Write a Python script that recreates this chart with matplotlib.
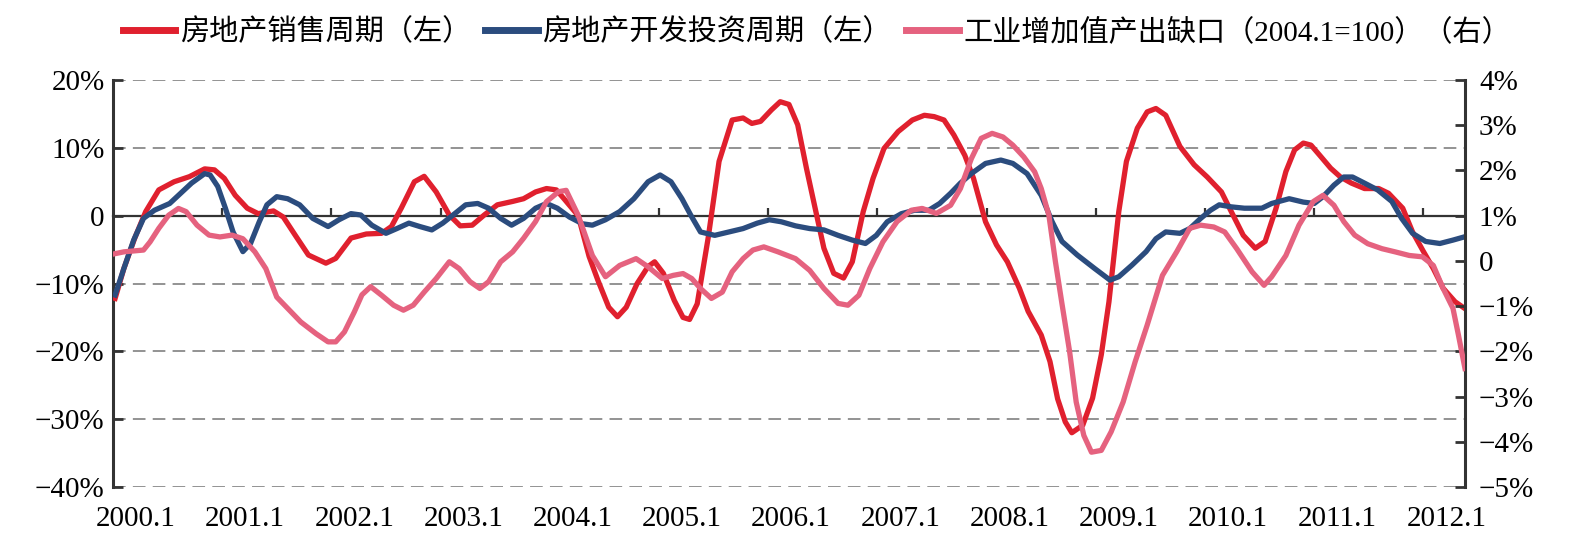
import matplotlib.pyplot as plt

# x positions are decimal years (2000.0 = Jan 2000)
years = list(range(2000, 2013))
year_labels = ["{}.1".format(y) for y in years]

# 房地产销售周期 (left axis, %)
sales_t = [2000.02, 2000.10, 2000.20, 2000.30, 2000.42, 2000.56, 2000.70, 2000.84, 2000.93,
           2001.02, 2001.12, 2001.23, 2001.33, 2001.47, 2001.56, 2001.67, 2001.79, 2001.95,
           2002.04, 2002.18, 2002.32, 2002.46, 2002.55, 2002.64, 2002.76, 2002.85, 2002.96,
           2003.08, 2003.18, 2003.29, 2003.40, 2003.52, 2003.66, 2003.76, 2003.87, 2003.97,
           2004.06, 2004.13, 2004.26, 2004.36, 2004.44, 2004.54, 2004.62, 2004.70, 2004.80,
           2004.90, 2004.96, 2005.04, 2005.14, 2005.22, 2005.28, 2005.35, 2005.45, 2005.55,
           2005.67, 2005.77, 2005.85, 2005.93, 2006.03, 2006.11, 2006.19, 2006.27, 2006.35,
           2006.45, 2006.51, 2006.60, 2006.69, 2006.77, 2006.87, 2006.96, 2007.06, 2007.19,
           2007.32, 2007.43, 2007.52, 2007.61, 2007.70, 2007.80, 2007.88, 2007.99, 2008.09,
           2008.19, 2008.30, 2008.38, 2008.50, 2008.58, 2008.65, 2008.72, 2008.78, 2008.88,
           2008.97, 2009.05, 2009.12, 2009.21, 2009.28, 2009.38, 2009.47, 2009.55, 2009.64,
           2009.77, 2009.90, 2010.02, 2010.15, 2010.24, 2010.35, 2010.46, 2010.55, 2010.65,
           2010.74, 2010.82, 2010.90, 2010.97, 2011.05, 2011.15, 2011.24, 2011.34, 2011.46,
           2011.59, 2011.68, 2011.81, 2011.90, 2012.00, 2012.09, 2012.18, 2012.29, 2012.38]
sales_v = [-12.2, -7.8, -3.3, 0.6, 3.8, 5.0, 5.75, 6.9, 6.75,
           5.5, 3.0, 1.1, 0.3, 0.7, -0.2, -2.9, -5.8, -7.0,
           -6.3, -3.3, -2.7, -2.6, -1.6, 1.1, 5.0, 5.8, 3.5,
           0.1, -1.5, -1.4, 0.1, 1.6, 2.1, 2.5, 3.5, 4.0,
           3.8, 2.5, 0.0, -6.0, -9.5, -13.5, -14.9, -13.5, -10.0,
           -7.5, -6.8, -8.5, -12.5, -15.0, -15.3, -13.0, -3.3, 8.0,
           14.1, 14.4, 13.6, 13.9, 15.6, 16.8, 16.4, 13.4, 7.0,
           -0.4, -4.8, -8.5, -9.2, -6.8, 0.6, 5.5, 9.9, 12.4,
           14.1, 14.8, 14.6, 14.1, 11.9, 8.9, 5.5, -0.9, -4.3,
           -6.8, -10.7, -14.1, -17.6, -21.5, -27.0, -30.4, -32.0, -30.9,
           -26.9, -20.5, -12.7, 0.6, 8.0, 12.9, 15.3, 15.8, 14.8,
           10.2, 7.5, 5.7, 3.5, 0.6, -2.9, -4.8, -3.8, 1.1,
           6.5, 9.7, 10.7, 10.4, 8.9, 7.0, 5.7, 4.8, 4.0,
           4.0, 3.3, 1.1, -2.4, -5.3, -7.8, -10.7, -12.7, -13.7]

# 房地产开发投资周期 (left axis, %)
invest_t = [2000.02, 2000.10, 2000.19, 2000.28, 2000.38, 2000.52, 2000.62, 2000.72, 2000.84,
            2000.89, 2000.96, 2001.03, 2001.10, 2001.19, 2001.26, 2001.34, 2001.41, 2001.50,
            2001.60, 2001.71, 2001.83, 2001.97, 2002.07, 2002.18, 2002.27, 2002.37, 2002.50,
            2002.60, 2002.71, 2002.81, 2002.92, 2003.02, 2003.13, 2003.23, 2003.34, 2003.44,
            2003.55, 2003.65, 2003.76, 2003.87, 2003.97, 2004.07, 2004.18, 2004.30, 2004.39,
            2004.51, 2004.64, 2004.77, 2004.90, 2005.01, 2005.11, 2005.21, 2005.29, 2005.38,
            2005.51, 2005.64, 2005.77, 2005.90, 2006.01, 2006.12, 2006.25, 2006.38, 2006.51,
            2006.64, 2006.77, 2006.89, 2006.99, 2007.09, 2007.22, 2007.34, 2007.47, 2007.57,
            2007.67, 2007.76, 2007.86, 2007.99, 2008.13, 2008.24, 2008.37, 2008.50, 2008.60,
            2008.69, 2008.83, 2008.99, 2009.13, 2009.21, 2009.33, 2009.46, 2009.55, 2009.64,
            2009.77, 2009.86, 2009.96, 2010.05, 2010.13, 2010.24, 2010.36, 2010.52, 2010.61,
            2010.77, 2010.90, 2011.00, 2011.08, 2011.18, 2011.27, 2011.35, 2011.46, 2011.58,
            2011.71, 2011.80, 2011.90, 2012.02, 2012.15, 2012.27, 2012.38]
invest_v = [-11.7, -7.8, -3.6, -0.4, 0.8, 1.8, 3.3, 4.8, 6.2,
            6.0, 4.3, 1.1, -2.4, -5.3, -4.1, -0.9, 1.6, 2.8,
            2.5, 1.6, -0.4, -1.6, -0.6, 0.3, 0.1, -1.4, -2.6,
            -1.9, -1.1, -1.6, -2.1, -1.1, 0.3, 1.6, 1.8, 1.1,
            -0.4, -1.4, -0.4, 1.1, 1.8, 1.1, -0.2, -1.2, -1.4,
            -0.6, 0.6, 2.5, 5.0, 6.0, 5.0, 2.5, 0.1, -2.4,
            -2.9, -2.4, -1.9, -1.1, -0.6, -0.9, -1.5, -1.9, -2.1,
            -2.9, -3.6, -4.1, -2.9, -0.9, 0.3, 0.8, 0.8, 1.8,
            3.3, 4.8, 6.2, 7.7, 8.2, 7.7, 6.2, 3.0, -0.9,
            -3.8, -5.8, -7.8, -9.5, -9.0, -7.3, -5.3, -3.4, -2.4,
            -2.6, -1.9, -0.4, 0.8, 1.6, 1.3, 1.1, 1.1, 1.8,
            2.5, 2.0, 1.8, 2.8, 4.5, 5.7, 5.7, 4.8, 3.8,
            2.1, -0.4, -2.6, -3.8, -4.1, -3.6, -3.1]

# 工业增加值产出缺口 (right axis, %)
gap_t = [2000.02, 2000.10, 2000.28, 2000.34, 2000.42, 2000.51, 2000.60, 2000.67, 2000.77,
         2000.88, 2000.98, 2001.09, 2001.19, 2001.30, 2001.40, 2001.50, 2001.62, 2001.72,
         2001.86, 2001.97, 2002.04, 2002.12, 2002.21, 2002.28, 2002.36, 2002.46, 2002.57,
         2002.66, 2002.75, 2002.85, 2002.96, 2003.08, 2003.17, 2003.27, 2003.36, 2003.44,
         2003.55, 2003.66, 2003.76, 2003.87, 2003.97, 2004.08, 2004.15, 2004.26, 2004.39,
         2004.51, 2004.64, 2004.79, 2004.90, 2005.03, 2005.13, 2005.22, 2005.30, 2005.38,
         2005.48, 2005.58, 2005.67, 2005.77, 2005.86, 2005.96, 2006.09, 2006.25, 2006.38,
         2006.51, 2006.64, 2006.73, 2006.83, 2006.93, 2007.05, 2007.18, 2007.31, 2007.41,
         2007.54, 2007.67, 2007.76, 2007.86, 2007.95, 2008.05, 2008.15, 2008.24, 2008.34,
         2008.44, 2008.50, 2008.57, 2008.63, 2008.69, 2008.76, 2008.82, 2008.89, 2008.96,
         2009.05, 2009.14, 2009.25, 2009.36, 2009.47, 2009.61, 2009.74, 2009.86, 2009.96,
         2010.08, 2010.18, 2010.29, 2010.43, 2010.54, 2010.61, 2010.74, 2010.86, 2010.99,
         2011.08, 2011.18, 2011.27, 2011.37, 2011.49, 2011.62, 2011.74, 2011.87, 2011.99,
         2012.09, 2012.18, 2012.27, 2012.32, 2012.38]
gap_v = [0.16, 0.2, 0.24, 0.42, 0.72, 1.01, 1.16, 1.09, 0.79,
         0.57, 0.53, 0.57, 0.49, 0.2, -0.17, -0.8, -1.1, -1.35,
         -1.61, -1.79, -1.79, -1.57, -1.13, -0.75, -0.57, -0.76, -0.98,
         -1.09, -0.98, -0.69, -0.39, -0.02, -0.17, -0.46, -0.61, -0.46,
         -0.02, 0.2, 0.5, 0.87, 1.31, 1.53, 1.56, 1.01, 0.12,
         -0.35, -0.1, 0.05, -0.13, -0.39, -0.32, -0.28, -0.39, -0.61,
         -0.83, -0.69, -0.24, 0.05, 0.24, 0.31, 0.2, 0.05, -0.21,
         -0.61, -0.94, -0.98, -0.76, -0.17, 0.42, 0.87, 1.12, 1.16,
         1.05, 1.23, 1.6, 2.26, 2.71, 2.82, 2.74, 2.56, 2.3,
         1.97, 1.6, 1.01, -0.02, -0.95, -2.01, -3.12, -3.86, -4.23,
         -4.19, -3.78, -3.12, -2.23, -1.42, -0.32, 0.2, 0.72, 0.79,
         0.75, 0.64, 0.27, -0.24, -0.54, -0.35, 0.12, 0.79, 1.31,
         1.45, 1.23, 0.87, 0.57, 0.38, 0.27, 0.2, 0.12, 0.09,
         -0.1, -0.61, -1.05, -1.64, -2.38]

left_ticks = [-40, -30, -20, -10, 0, 10, 20]
right_ticks = [-5, -4, -3, -2, -1, 0, 1, 2, 3, 4]


def pct(v):
    if v == 0:
        return "0"
    return "{}%".format(v).replace("-", "\u2212")


plt.rcParams['font.family'] = ['Liberation Serif', 'Noto Sans CJK SC']

fig = plt.figure(figsize=(15.86, 5.48), dpi=100)
ax = fig.add_axes([0.0712, 0.1113, 0.8525, 0.7427])
ax2 = ax.twinx()

red = '#e0202e'
blue = '#2b4c7e'
pink = '#e5627f'

l1, = ax.plot(sales_t, sales_v, color=red, lw=3.8, solid_joinstyle='round', zorder=3)
l2, = ax.plot(invest_t, invest_v, color=blue, lw=3.8, solid_joinstyle='round', zorder=3)
l3, = ax2.plot(gap_t, gap_v, color=pink, lw=3.8, solid_joinstyle='round', zorder=3)

ax.set_xlim(2000, 2012.38)
ax.set_ylim(-40, 20)
ax2.set_ylim(-5, 4)

# dashed grid (zero line is drawn by the moved bottom spine)
ax.set_yticks(left_ticks)
ax.set_yticklabels([pct(v) for v in left_ticks])
for v in left_ticks:
    if v != 0:
        ax.axhline(v, color='#8a8a8a', lw=1.3, ls=(0, (7, 4)), zorder=1)
ax2.set_yticks(right_ticks)
ax2.set_yticklabels([pct(v) for v in right_ticks])

# zero line with yearly tick marks
ax.spines['bottom'].set_position(('data', 0))
ax.spines['bottom'].set_color('#333333')
ax.spines['bottom'].set_linewidth(1.6)
ax.set_xticks(years[1:])
ax.tick_params(axis='x', direction='in', length=6, width=1.6, color='#333333',
               labelbottom=False)

# year labels at the bottom
sec = ax.secondary_xaxis('bottom')
sec.set_xticks([y + 0.21 for y in years])
sec.set_xticklabels(year_labels)
sec.tick_params(axis='x', length=0, pad=14, labelsize=21)
sec.spines['bottom'].set_visible(False)

for a in (ax, ax2):
    a.spines['top'].set_visible(False)
ax.spines['right'].set_visible(False)
ax2.spines['bottom'].set_visible(False)
ax.spines['left'].set_linewidth(2.2)
ax.spines['left'].set_color('#333333')
ax2.spines['right'].set_linewidth(2.2)
ax2.spines['right'].set_color('#333333')
ax2.spines['left'].set_visible(False)
ax.tick_params(axis='y', direction='in', length=7, width=2, color='#333333',
               labelsize=21, pad=6)
ax2.tick_params(axis='y', direction='in', length=7, width=2, color='#333333',
                labelsize=21, pad=10)

leg = fig.legend([l1, l2, l3],
                 ["房地产销售周期（左）", "房地产开发投资周期（左）", "工业增加值产出缺口（2004.1=100）（右）"],
                 loc='center', bbox_to_anchor=(0.515, 0.942), ncol=3, frameon=False,
                 fontsize=21, handlelength=1.8, handletextpad=0.15, columnspacing=0.5)
for h in leg.get_lines():
    h.set_linewidth(5)

fig.savefig("out.png", dpi=100)
